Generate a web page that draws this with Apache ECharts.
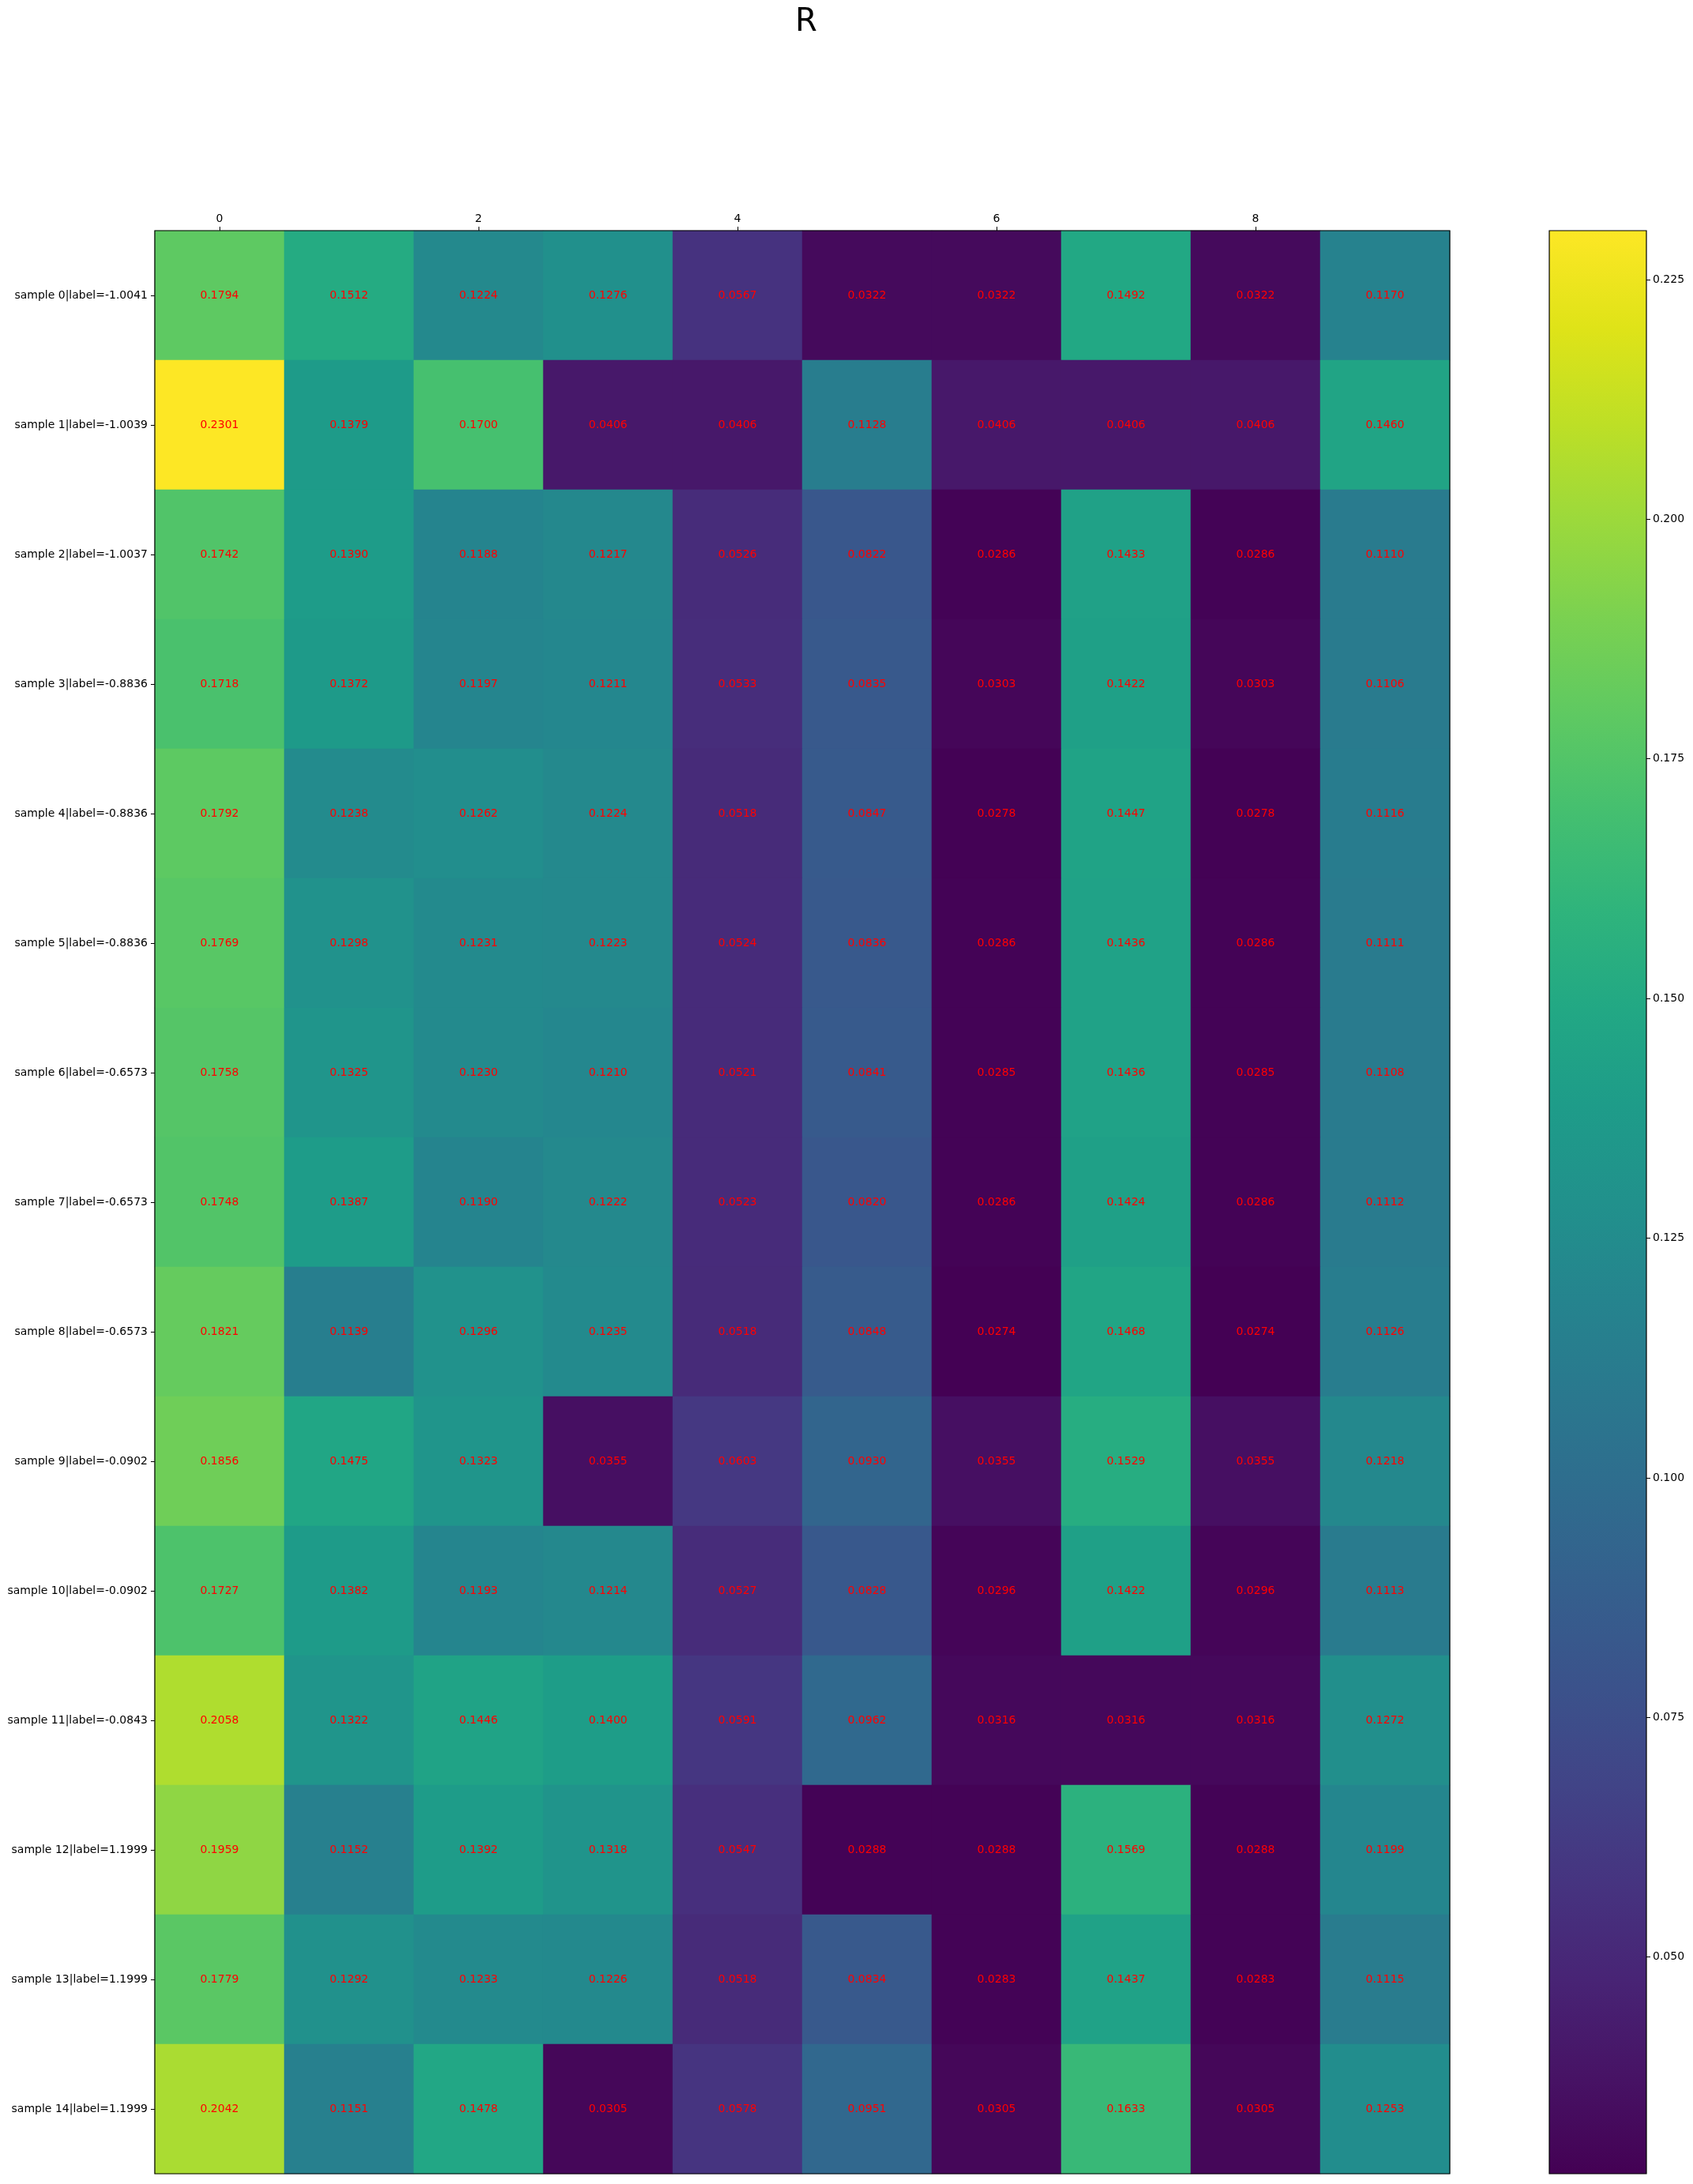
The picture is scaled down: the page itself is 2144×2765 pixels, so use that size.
<!DOCTYPE html>
<html>
<head>
<meta charset="utf-8">
<script src="https://cdn.jsdelivr.net/npm/echarts@6/dist/echarts.min.js"></script>
<style>
  html, body { margin: 0; padding: 0; background: #fff; }
  #chart { width: 2144px; height: 2765px; }
</style>
</head>
<body>
<div id="chart"></div>
<script>
// columns of the matrix
var columns = ["0", "1", "2", "3", "4", "5", "6", "7", "8", "9"];
// label value of each sample (row)
var sampleLabels = [-1.0041, -1.0039, -1.0037, -0.8836, -0.8836, -0.8836, -0.6573, -0.6573, -0.6573,
  -0.0902, -0.0902, -0.0843, 1.1999, 1.1999, 1.1999];
// R values, one row per sample
var rValues = [
  [0.1794, 0.1512, 0.1224, 0.1276, 0.0567, 0.0322, 0.0322, 0.1492, 0.0322, 0.1170],
  [0.2301, 0.1379, 0.1700, 0.0406, 0.0406, 0.1128, 0.0406, 0.0406, 0.0406, 0.1460],
  [0.1742, 0.1390, 0.1188, 0.1217, 0.0526, 0.0822, 0.0286, 0.1433, 0.0286, 0.1110],
  [0.1718, 0.1372, 0.1197, 0.1211, 0.0533, 0.0835, 0.0303, 0.1422, 0.0303, 0.1106],
  [0.1792, 0.1238, 0.1262, 0.1224, 0.0518, 0.0847, 0.0278, 0.1447, 0.0278, 0.1116],
  [0.1769, 0.1298, 0.1231, 0.1223, 0.0524, 0.0836, 0.0286, 0.1436, 0.0286, 0.1111],
  [0.1758, 0.1325, 0.1230, 0.1210, 0.0521, 0.0841, 0.0285, 0.1436, 0.0285, 0.1108],
  [0.1748, 0.1387, 0.1190, 0.1222, 0.0523, 0.0820, 0.0286, 0.1424, 0.0286, 0.1112],
  [0.1821, 0.1139, 0.1296, 0.1235, 0.0518, 0.0848, 0.0274, 0.1468, 0.0274, 0.1126],
  [0.1856, 0.1475, 0.1323, 0.0355, 0.0603, 0.0930, 0.0355, 0.1529, 0.0355, 0.1218],
  [0.1727, 0.1382, 0.1193, 0.1214, 0.0527, 0.0828, 0.0296, 0.1422, 0.0296, 0.1113],
  [0.2058, 0.1322, 0.1446, 0.1400, 0.0591, 0.0962, 0.0316, 0.0316, 0.0316, 0.1272],
  [0.1959, 0.1152, 0.1392, 0.1318, 0.0547, 0.0288, 0.0288, 0.1569, 0.0288, 0.1199],
  [0.1779, 0.1292, 0.1233, 0.1226, 0.0518, 0.0834, 0.0283, 0.1437, 0.0283, 0.1115],
  [0.2042, 0.1151, 0.1478, 0.0305, 0.0578, 0.0951, 0.0305, 0.1633, 0.0305, 0.1253]
];
// colorbar ticks
var colorbarTicks = [0.050, 0.075, 0.100, 0.125, 0.150, 0.175, 0.200, 0.225];

var viridis = ["#440154", "#471365", "#482475", "#463480", "#414487", "#3b528b", "#355f8d",
  "#2f6c8e", "#2a788e", "#25848e", "#21918c", "#1e9c89", "#22a884", "#2fb47c", "#44bf70",
  "#5ec962", "#7ad151", "#9bd93c", "#bddf26", "#dfe318", "#fde725"];

var rowNames = sampleLabels.map(function (v, i) {
  return "sample " + i + "|label=" + v.toFixed(4);
});

var cells = [];
var vmin = Infinity, vmax = -Infinity;
rValues.forEach(function (row, r) {
  row.forEach(function (v, c) {
    cells.push([c, r, v]);
    if (v < vmin) vmin = v;
    if (v > vmax) vmax = v;
  });
});

var font = "DejaVu Sans";
var chart = echarts.init(document.getElementById("chart"), null, { renderer: "canvas" });

var option = {
  animation: false,
  backgroundColor: "#fff",
  title: {
    text: "R",
    left: 1016,
    top: 4,
    textAlign: "center",
    textStyle: { fontFamily: font, fontSize: 40, fontWeight: "normal", color: "#000" }
  },
  grid: [
    { left: 196, top: 292, width: 1640, height: 2460, show: true, z: 10,
      backgroundColor: "transparent", borderColor: "#000", borderWidth: 1.2 },
    { left: 1962, top: 292, width: 123, height: 2460, show: true, z: 10,
      backgroundColor: "transparent", borderColor: "#000", borderWidth: 1.2 }
  ],
  visualMap: {
    show: false,
    type: "continuous",
    seriesIndex: 0,
    min: vmin,
    max: vmax,
    inRange: { color: viridis }
  },
  xAxis: [
    {
      type: "category",
      gridIndex: 0,
      position: "top",
      data: columns,
      axisLine: { show: false },
      axisTick: { show: true, interval: 1, alignWithLabel: true, length: 5,
        lineStyle: { color: "#000" } },
      axisLabel: { interval: 1, fontFamily: font, fontSize: 14, color: "#000", margin: 8 },
      splitLine: { show: false }
    },
    {
      type: "category",
      gridIndex: 1,
      data: ["cb"],
      show: false
    }
  ],
  yAxis: [
    {
      type: "category",
      gridIndex: 0,
      inverse: true,
      data: rowNames,
      axisLine: { show: false },
      axisTick: { show: true, alignWithLabel: true, length: 5, lineStyle: { color: "#000" } },
      axisLabel: { fontFamily: font, fontSize: 14, color: "#000", margin: 9 },
      splitLine: { show: false }
    },
    {
      type: "value",
      gridIndex: 1,
      position: "right",
      min: vmin,
      max: vmax,
      axisLine: { show: false },
      axisTick: { show: true, length: 5, customValues: colorbarTicks, lineStyle: { color: "#000" } },
      axisLabel: {
        customValues: colorbarTicks,
        fontFamily: font, fontSize: 14, color: "#000", margin: 8,
        formatter: function (v) { return v.toFixed(3); }
      },
      splitLine: { show: false }
    }
  ],
  series: [
    {
      type: "heatmap",
      xAxisIndex: 0,
      yAxisIndex: 0,
      data: cells,
      itemStyle: { borderWidth: 0 },
      label: {
        show: true,
        color: "#ff0000",
        fontFamily: font,
        fontSize: 14,
        formatter: function (p) { return p.value[2].toFixed(4); }
      }
    },
    {
      type: "bar",
      xAxisIndex: 1,
      yAxisIndex: 1,
      data: [vmax],
      barWidth: "100%",
      itemStyle: {
        color: new echarts.graphic.LinearGradient(0, 1, 0, 0, viridis.map(function (c, i) {
          return { offset: i / (viridis.length - 1), color: c };
        }))
      }
    }
  ]
};

chart.setOption(option);
</script>
</body>
</html>
